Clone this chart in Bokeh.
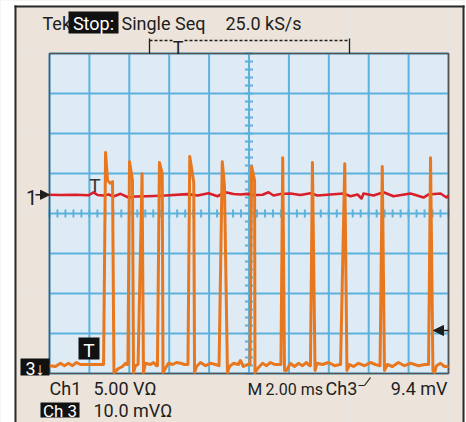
from bokeh.plotting import figure
from bokeh.models import Range1d, Label, Arrow, NormalHead
from bokeh.embed import file_html
from bokeh.resources import INLINE
import numpy as np

time_per_div_ms = 2.0
ch1_volts_per_div = 5.0
ch3_mv_per_div = 10.0
trigger_level_mv = 9.4

# Ch3 (orange) trace: time in ms, amplitude in mV
ch3_time_ms = [0.00, 0.30, 0.55, 0.75, 0.95, 1.15, 1.35, 1.55, 2.05, 2.56, 2.71, 2.81, 2.91, 3.06, 3.16,
               3.23, 3.46, 3.66, 3.81, 3.88, 3.93, 4.01, 4.16, 4.21, 4.31, 4.44, 4.64, 4.71, 4.81,
               5.06, 5.21, 5.36, 5.41, 5.51, 5.65, 5.69, 5.81, 5.96, 6.17, 6.37, 6.57, 6.77, 6.94,
               7.03, 7.23, 7.27, 7.37, 7.57, 7.82, 8.07, 8.32, 8.50, 8.66, 8.77, 8.92, 9.02, 9.22,
               9.47, 9.57, 9.72, 9.92, 10.05, 10.13, 10.28, 10.30, 10.43, 10.68, 10.88, 11.08, 11.28,
               11.53, 11.60, 11.69, 11.78, 11.88, 12.08, 12.28, 12.48, 12.68, 12.88, 13.03, 13.08,
               13.18, 13.31, 13.41, 13.68, 13.98, 14.29, 14.54, 14.59, 14.80, 14.91, 15.04, 15.24,
               15.49, 15.79, 16.09, 16.34, 16.57, 16.68, 16.79, 16.94, 17.19, 17.49, 17.79, 18.10,
               18.50, 18.80, 19.00, 19.10, 19.22, 19.30, 19.40, 19.60, 19.80, 20.00]
ch3_mv = [0.6, 0.4, 1.2, 0.6, 1.2, 0.6, 1.4, 0.9, 0.9, 0.9, 0.9, 53.9, 46.9, 46.2, 46.6,
          -1.1, -0.1, 0.4, 1.2, 0.9, 0.9, 51.6, 46.9, -1.1, 0.6, 0.9, 48.6, -1.1, 1.2,
          0.9, 1.4, 0.6, 0.6, 51.4, 48.6, -1.1, -0.1, 1.2, 0.9, 1.4, 1.2, 0.9, 0.9,
          52.9, 46.4, -1.1, 0.4, 1.4, 0.6, 1.2, 0.9, 0.6, 51.6, 45.6, -1.1, 0.4, 1.2,
          0.9, 1.9, 0.4, 0.9, 0.9, 50.4, 46.9, -1.1, -0.1, 1.2, 0.6, 1.4, 0.9,
          0.9, 0.9, 52.6, -0.6, -0.6, 1.2, 0.4, 1.2, 0.6, 1.4, 0.6, 0.6,
          51.4, -0.6, 1.2, 0.9, 1.4, 0.6, 0.9, 0.9, 51.1, -0.6, 0.9, 0.4,
          1.2, 0.6, 1.4, 0.9, 0.6, 50.4, -0.6, 0.9, 0.4, 1.4, 0.6, 1.2,
          0.6, 0.9, 0.9, 52.6, -0.6, -1.1, 0.6, 1.2, 0.4, 0.4]

# Ch1 (red) trace: time in ms, amplitude in V
ch1_time_ms = [0.00, 0.55, 1.30, 1.95, 2.21, 2.41, 2.71, 2.96, 3.21, 3.56, 3.96, 4.31, 4.91, 5.81,
               6.92, 7.42, 7.97, 8.42, 8.82, 9.22, 9.57, 9.92, 10.33, 10.68, 10.98, 11.23, 11.58,
               12.08, 12.58, 13.08, 13.43, 14.09, 14.74, 15.09, 15.44, 15.64, 15.74, 16.24, 16.74,
               17.24, 18.10, 18.75, 19.00, 19.60, 19.90, 20.00]
ch1_volts = [0.00, -0.03, 0.00, -0.06, 0.31, -0.03, -0.09, 0.04, -0.21, 0.12, -0.34, -0.21, -0.18, -0.09,
             0.08, -0.09, 0.20, -0.18, 0.32, 0.10, 0.04, 0.12, -0.03, 0.00, 0.32, -0.09, 0.10,
             0.16, -0.03, 0.20, -0.09, 0.04, 0.16, -0.18, 0.04, -0.46, 0.16, -0.09, 0.32,
             -0.18, 0.16, -0.34, 0.04, 0.16, -0.34, -0.09]

header_texts = ["Tek", "Stop:", "Single Seq", "25.0 kS/s"]
footer_texts = ["Ch1", "5.00 V\u03a9", "M", "2.00 ms", "Ch3", "9.4 mV", "Ch 3", "10.0 mV\u03a9"]

# ---------------- styling / layout ----------------
FONT = "Roboto"
BEIGE = "#ece4da"
SCREEN = "#deebf5"
GRIDC = "#5cb2dd"
ORANGE = "#e8781f"
RED = "#d91f29"
INK = "#1e1e1e"
BLACK = "#111111"
FRAMEC = "#2a2a2a"

n_xdiv, n_ydiv = 10, 8
x_span = n_xdiv * time_per_div_ms
ch1_offset_div = 0.4675     # ch1 ground marker position (div above centre)
ch3_offset_div = -3.865     # ch3 ground position (div from centre)

# canvas pixel -> data helpers (graticule: x 49..448, y 53..373, centre y 213)
W, H = 466, 422
PXD = 399.0 / x_span
PYD = 40.0
def fx(px):
    return (px - 49.0) / PXD
def fy(py):
    return (213.0 - py) / PYD

y0, y1 = fy(H), fy(0)
p = figure(width=W, height=H, output_backend="svg", toolbar_location=None,
           x_axis_location=None, y_axis_location=None, title=None,
           x_range=Range1d(fx(0), fx(W)), y_range=Range1d(y0, y1),
           min_border_left=0, min_border_right=0, min_border_top=0, min_border_bottom=0,
           background_fill_color=BEIGE, border_fill_color=BEIGE, outline_line_color=None)
p.extra_y_ranges = {
    "ch1": Range1d((y0 - ch1_offset_div) * ch1_volts_per_div, (y1 - ch1_offset_div) * ch1_volts_per_div),
    "ch3": Range1d((y0 - ch3_offset_div) * ch3_mv_per_div, (y1 - ch3_offset_div) * ch3_mv_per_div),
}

def rect(l, r, t, b, color):
    p.quad(left=fx(l), right=fx(r), top=fy(t), bottom=fy(b), fill_color=color, line_color=None)

# page margins and outer panel frame
rect(0, 14, 0, H, "white")
rect(464, W, 0, H, "white")
rect(0, W, 0, 5, "white")
rect(14, 16, 5, H, FRAMEC)
rect(14, 464, 5, 7, FRAMEC)
rect(462, 464, 5, H, FRAMEC)

# graticule
xl, xr = 0.0, x_span
yb, yt = -n_ydiv / 2, n_ydiv / 2
p.quad(left=xl, right=xr, bottom=yb, top=yt, fill_color=SCREEN, line_color=None)
gx = [i * time_per_div_ms for i in range(n_xdiv + 1)]
gy = [i - n_ydiv / 2 for i in range(n_ydiv + 1)]
p.segment(x0=gx, y0=yb, x1=gx, y1=yt, line_color=GRIDC, line_width=2)
p.segment(x0=xl, y0=gy, x1=xr, y1=gy, line_color=GRIDC, line_width=2)
mx = np.arange(0, x_span + 1e-6, time_per_div_ms / 5)
p.segment(x0=mx, y0=-0.1, x1=mx, y1=0.1, line_color=GRIDC, line_width=2)
my = np.arange(yb, yt + 1e-6, 0.2)
p.segment(x0=x_span / 2 - 0.2, y0=my, x1=x_span / 2 + 0.2, y1=my, line_color=GRIDC, line_width=2)
p.quad(left=xl, right=xr, bottom=yb, top=yt, fill_color=None, line_color="#555555", line_width=1.5)

# traces
p.line(ch1_time_ms, ch1_volts, y_range_name="ch1", line_color=RED, line_width=2.6,
       line_join="round")
p.line(ch3_time_ms, ch3_mv, y_range_name="ch3", line_color=ORANGE, line_width=3,
       line_join="round")

# black tag boxes
rect(68, 118, 11, 33, BLACK)
rect(20, 49, 358, 375, BLACK)
rect(78, 99, 337, 359, BLACK)
rect(40, 79, 402, 417, BLACK)

def lab(text, px, py, size=18, color=INK, align="left"):
    # py is the wanted baseline in canvas pixels; compensate the renderer's baseline offset
    p.add_layout(Label(x=fx(px), y=fy(py - 0.28 * size), text=text,
                       text_font=FONT, text_font_size=f"{size}px", text_color=color,
                       text_align=align, text_baseline="alphabetic"))

def seg(xa, ya, xb, yb_, dash="solid", w=1.3, color=INK):
    p.segment(x0=[fx(xa)], y0=[fy(ya)], x1=[fx(xb)], y1=[fy(yb_)], line_color=color,
              line_width=w, line_dash=dash)

# header
lab(header_texts[0], 42, 28)
lab(header_texts[1], 93, 28, color="white", align="center")
lab(header_texts[2], 121, 28)
lab(header_texts[3], 225, 28)

# record bracket with trigger position
seg(149, 38, 149, 53)
seg(349, 38, 349, 53)
seg(149, 40, 172, 40, dash="3 2")
seg(184, 40, 349, 40, dash="3 2")
lab("T", 177.5, 52, size=18, align="center")

# channel markers
lab("1", 31, 203, size=20, align="center")
p.add_layout(Arrow(x_start=fx(35), y_start=0.0, x_end=fx(49), y_end=0.0, y_range_name="ch1",
                   line_color=INK, line_width=1.5,
                   end=NormalHead(size=9, fill_color=INK, line_color=INK)))
p.add_layout(Arrow(x_start=fx(448), y_start=trigger_level_mv, x_end=fx(433),
                   y_end=trigger_level_mv, y_range_name="ch3", line_color=INK, line_width=1.5,
                   end=NormalHead(size=10, fill_color=INK, line_color=INK)))
lab("3\u2193", 34.5, 373, color="white", align="center")
lab("T", 88.5, 355, size=19, color="white", align="center")
lab("T", 94.5, 190, size=19, color="#333333", align="center")

# footer
lab(footer_texts[0], 49, 393)
lab(footer_texts[1], 93, 393)
lab(footer_texts[2], 247, 393, size=17)
lab(footer_texts[3], 265, 393, size=16)
lab(footer_texts[4], 325, 393)
seg(358, 385, 364, 385, w=1.2)
seg(364, 385, 370, 377, w=1.2)
lab(footer_texts[5], 447, 393, align="right")
lab(footer_texts[6], 59.5, 415, size=17, color="white", align="center")
lab(footer_texts[7], 93, 415)

open("out.html", "w").write(file_html(p, INLINE))
